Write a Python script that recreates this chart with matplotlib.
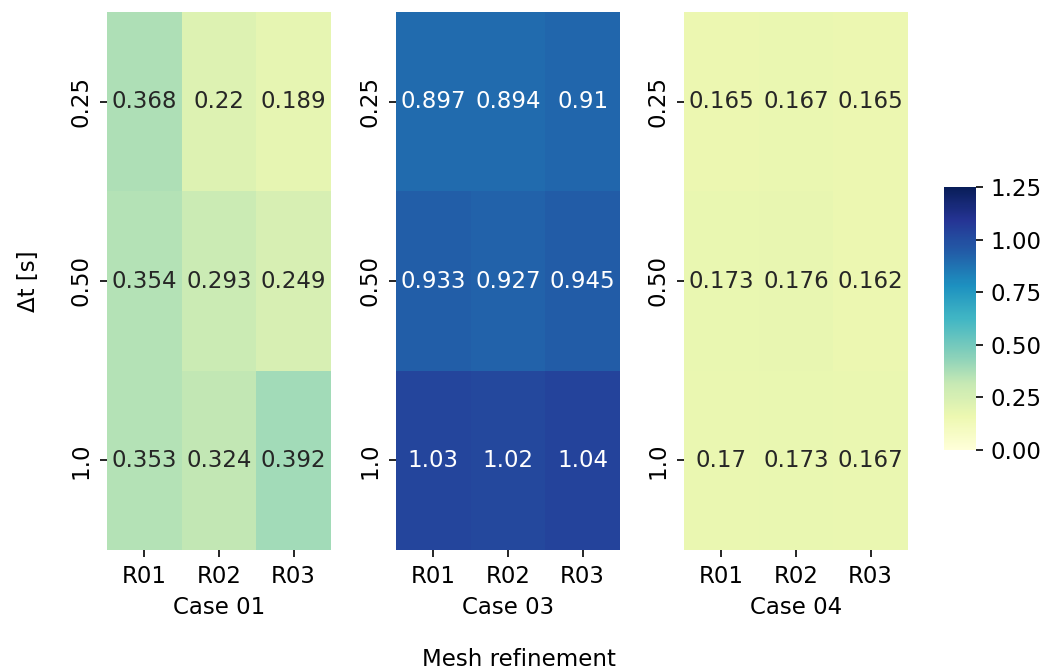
import matplotlib
matplotlib.use('Agg')
import matplotlib.pyplot as plt
import numpy as np
import seaborn as sns

meshes = ['R01', 'R02', 'R03']
dts = ['0.25', '0.50', '1.0']
cases = ['Case 01', 'Case 03', 'Case 04']

case01 = [[0.368, 0.22, 0.189],
          [0.354, 0.293, 0.249],
          [0.353, 0.324, 0.392]]
case03 = [[0.897, 0.894, 0.91],
          [0.933, 0.927, 0.945],
          [1.03, 1.02, 1.04]]
case04 = [[0.165, 0.167, 0.165],
          [0.173, 0.176, 0.162],
          [0.17, 0.173, 0.167]]

fs = 11
fig = plt.figure(figsize=(1046 / 150, 671 / 150), dpi=150)
W, H = 1046, 671
lefts = [107, 396, 684]
axes = [fig.add_axes([l / W, 1 - 550 / H, 224 / W, 538 / H]) for l in lefts]
cax = fig.add_axes([944 / W, 1 - 450 / H, 32 / W, 263 / H])

for i, (ax, data, name) in enumerate(zip(axes, [case01, case03, case04], cases)):
    sns.heatmap(np.array(data), ax=ax, cmap='YlGnBu', vmin=0, vmax=1.25,
                annot=True, fmt='.3g', annot_kws={'fontsize': fs},
                xticklabels=meshes, yticklabels=dts,
                cbar=(i == 0), cbar_ax=cax if i == 0 else None)
    ax.set_xlabel(name, fontsize=fs)
    ax.tick_params(labelsize=fs)
    ax.set_yticklabels(dts, rotation=90, va='center')

axes[0].set_ylabel('Δt [s]', fontsize=fs, labelpad=14)
cax.tick_params(labelsize=fs)
cax.set_yticks([0, 0.25, 0.5, 0.75, 1.0, 1.25])
cax.set_yticklabels(['0.00', '0.25', '0.50', '0.75', '1.00', '1.25'])
fig.text(519 / W, 1 - 659 / H, 'Mesh refinement', ha='center', va='center', fontsize=fs)

plt.savefig('out.png', dpi=150)
plt.close(fig)
